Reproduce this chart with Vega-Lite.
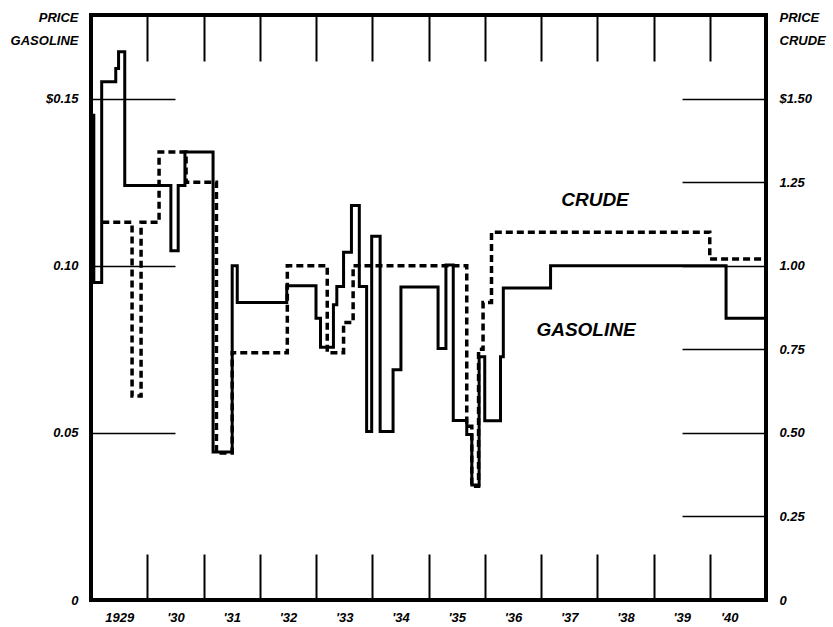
{
  "$schema": "https://vega.github.io/schema/vega-lite/v6.json",
  "width": 675,
  "height": 585,
  "autosize": "none",
  "padding": {"left": 91, "top": 15, "right": 67, "bottom": 27},
  "background": "white",
  "config": {
    "view": {"stroke": "black", "strokeWidth": 4},
    "font": "Liberation Sans",
    "axis": {
      "domain": false,
      "grid": false,
      "labelFont": "Liberation Sans",
      "labelFontStyle": "italic",
      "labelFontWeight": "bold",
      "labelColor": "black",
      "labelFontSize": 13,
      "tickColor": "black",
      "titleFont": "Liberation Sans",
      "titleFontStyle": "italic",
      "titleFontWeight": "bold",
      "titleColor": "black",
      "titleFontSize": 13
    }
  },
  "datasets": {
    "gas": [
      {"t": 1929.00, "v": 0.145},
      {"t": 1929.05, "v": 0.095},
      {"t": 1929.19, "v": 0.155},
      {"t": 1929.44, "v": 0.159},
      {"t": 1929.49, "v": 0.164},
      {"t": 1929.60, "v": 0.124},
      {"t": 1930.42, "v": 0.1045},
      {"t": 1930.55, "v": 0.124},
      {"t": 1930.67, "v": 0.134},
      {"t": 1931.17, "v": 0.0443},
      {"t": 1931.51, "v": 0.100},
      {"t": 1931.60, "v": 0.089},
      {"t": 1932.48, "v": 0.094},
      {"t": 1933.00, "v": 0.0843},
      {"t": 1933.08, "v": 0.0756},
      {"t": 1933.31, "v": 0.0883},
      {"t": 1933.37, "v": 0.0938},
      {"t": 1933.49, "v": 0.104},
      {"t": 1933.63, "v": 0.118},
      {"t": 1933.77, "v": 0.0938},
      {"t": 1933.90, "v": 0.0504},
      {"t": 1933.99, "v": 0.1088},
      {"t": 1934.14, "v": 0.0504},
      {"t": 1934.37, "v": 0.0689},
      {"t": 1934.51, "v": 0.0936},
      {"t": 1935.17, "v": 0.0752},
      {"t": 1935.31, "v": 0.1002},
      {"t": 1935.44, "v": 0.0537},
      {"t": 1935.68, "v": 0.0495},
      {"t": 1935.77, "v": 0.0344},
      {"t": 1935.90, "v": 0.0728},
      {"t": 1936.00, "v": 0.0536},
      {"t": 1936.28, "v": 0.0728},
      {"t": 1936.33, "v": 0.0933},
      {"t": 1937.17, "v": 0.100},
      {"t": 1940.29, "v": 0.0843},
      {"t": 1941.00, "v": 0.0843}
    ],
    "crude": [
      {"t": 1929.20, "v": 1.13},
      {"t": 1929.73, "v": 0.61},
      {"t": 1929.89, "v": 1.13},
      {"t": 1930.21, "v": 1.34},
      {"t": 1930.69, "v": 1.25},
      {"t": 1931.23, "v": 0.44},
      {"t": 1931.51, "v": 0.74},
      {"t": 1932.49, "v": 1.00},
      {"t": 1933.20, "v": 0.74},
      {"t": 1933.49, "v": 0.83},
      {"t": 1933.66, "v": 1.00},
      {"t": 1935.68, "v": 0.52},
      {"t": 1935.77, "v": 0.34},
      {"t": 1935.89, "v": 0.75},
      {"t": 1935.97, "v": 0.89},
      {"t": 1936.12, "v": 1.10},
      {"t": 1940.00, "v": 1.02},
      {"t": 1941.00, "v": 1.02}
    ],
    "gasLabel": [{"t": 1937.8, "v": 0.0808, "label": "GASOLINE"}],
    "crudeLabel": [{"t": 1937.96, "v": 1.198, "label": "CRUDE"}]
  },
  "layer": [
    {
      "data": {"name": "gas"},
      "mark": {"type": "line", "interpolate": "step-after", "color": "black", "strokeWidth": 3},
      "encoding": {
        "x": {
          "field": "t", "type": "quantitative",
          "scale": {"domain": [1929, 1941], "nice": false, "zero": false},
          "axis": {
            "orient": "bottom",
            "values": [1930, 1931, 1932, 1933, 1934, 1935, 1936, 1937, 1938, 1939, 1940, 1941],
            "tickSize": -46,
            "tickWidth": 2,
            "labelOffset": -28,
            "labelPadding": 57,
            "labelExpr": "datum.value == 1930 ? '1929' : \"'\" + slice(toString(datum.value - 1), 2)",
            "title": null
          }
        },
        "y": {
          "field": "v", "type": "quantitative",
          "scale": {"domain": [0, 0.175], "nice": false, "zero": true},
          "axis": {
            "orient": "left",
            "values": [0, 0.05, 0.1, 0.15],
            "tickSize": -84,
            "tickWidth": 1.5,
            "labelPadding": 97,
            "labelExpr": "datum.value == 0.15 ? '$0.15' : datum.value == 0 ? '0' : format(datum.value, '.2f')",
            "title": ["PRICE", "GASOLINE"],
            "titleAngle": 0,
            "titleAlign": "right",
            "titleBaseline": "top",
            "titleX": -13,
            "titleY": -4,
            "titleLineHeight": 23
          }
        }
      }
    },
    {
      "data": {"name": "crude"},
      "mark": {"type": "line", "interpolate": "step-after", "color": "black", "strokeWidth": 3.5, "strokeDash": [7, 4]},
      "encoding": {
        "x": {
          "field": "t", "type": "quantitative",
          "scale": {"domain": [1929, 1941], "nice": false, "zero": false},
          "axis": {
            "orient": "top",
            "values": [1930, 1931, 1932, 1933, 1934, 1935, 1936, 1937, 1938, 1939, 1940],
            "tickSize": -46,
            "tickWidth": 2,
            "labels": false,
            "title": null
          }
        },
        "y": {
          "field": "v", "type": "quantitative",
          "scale": {"domain": [0, 1.75], "nice": false, "zero": true},
          "axis": {
            "orient": "right",
            "values": [0, 0.25, 0.5, 0.75, 1, 1.25, 1.5],
            "tickSize": -84,
            "tickWidth": 1.5,
            "labelPadding": 97,
            "labelExpr": "datum.value == 1.5 ? '$1.50' : datum.value == 0 ? '0' : format(datum.value, '.2f')",
            "title": ["PRICE", "CRUDE"],
            "titleAngle": 0,
            "titleAlign": "left",
            "titleBaseline": "top",
            "titleX": 13,
            "titleY": -4,
            "titleLineHeight": 23
          }
        }
      }
    },
    {
      "data": {"name": "gasLabel"},
      "mark": {"type": "text", "font": "Liberation Sans", "fontStyle": "italic", "fontWeight": "bold", "fontSize": 19, "color": "black", "align": "center", "baseline": "middle"},
      "encoding": {
        "x": {"field": "t", "type": "quantitative", "scale": {"domain": [1929, 1941], "nice": false, "zero": false}, "axis": null},
        "y": {"field": "v", "type": "quantitative", "scale": {"domain": [0, 0.175], "nice": false, "zero": true}, "axis": null},
        "text": {"field": "label"}
      }
    },
    {
      "data": {"name": "crudeLabel"},
      "mark": {"type": "text", "font": "Liberation Sans", "fontStyle": "italic", "fontWeight": "bold", "fontSize": 19, "color": "black", "align": "center", "baseline": "middle"},
      "encoding": {
        "x": {"field": "t", "type": "quantitative", "scale": {"domain": [1929, 1941], "nice": false, "zero": false}, "axis": null},
        "y": {"field": "v", "type": "quantitative", "scale": {"domain": [0, 1.75], "nice": false, "zero": true}, "axis": null},
        "text": {"field": "label"}
      }
    }
  ],
  "resolve": {"scale": {"y": "independent"}, "axis": {"x": "independent", "y": "independent"}}
}
